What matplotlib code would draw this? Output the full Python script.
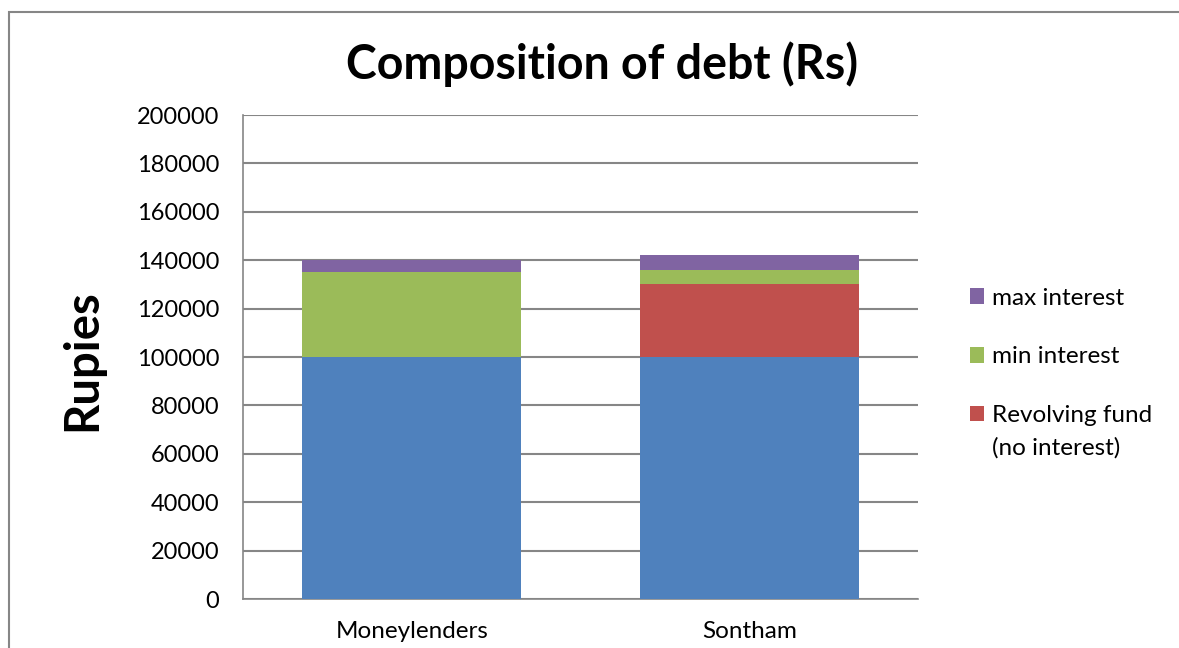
import numpy as np
import matplotlib.pyplot as plt
from matplotlib.patches import Rectangle

categories = ['Moneylenders', 'Sontham']
principal = [100000, 100000]
revolving = [0, 30000]
min_interest = [35000, 6000]
max_interest = [5000, 6000]

yticks = [0, 20000, 40000, 60000, 80000, 100000, 120000, 140000, 160000, 180000, 200000]

plt.rcParams['font.family'] = ['Lato', 'DejaVu Sans']

fig = plt.figure(figsize=(11.79, 6.48), dpi=100)
ax = fig.add_axes([243/1179, 1 - 599/648, 675/1179, 484/648])

x = np.arange(len(categories))
w = 0.65
b1 = np.array(principal)
b2 = b1 + np.array(revolving)
b3 = b2 + np.array(min_interest)

ax.bar(x, principal, w, color='#4F81BD', zorder=3)
ax.bar(x, revolving, w, bottom=b1, color='#C0504D', zorder=3, label='Revolving fund')
ax.bar(x, min_interest, w, bottom=b2, color='#9BBB59', zorder=3, label='min interest')
ax.bar(x, max_interest, w, bottom=b3, color='#8064A2', zorder=3, label='max interest')

ax.set_xlim(-0.5, 1.5)
ax.set_ylim(0, 200000)
ax.set_yticks(yticks)
ax.set_yticklabels([str(v) for v in yticks], fontsize=17)
ax.set_xticks(x)
ax.set_xticklabels(categories, fontsize=17.5)
ax.tick_params(axis='y', length=0, pad=17)
ax.tick_params(axis='x', length=0, pad=16)
ax.grid(axis='y', color='#868686', linewidth=1.5, zorder=0)
for s in ['top', 'right']:
    ax.spines[s].set_visible(False)
for s in ['left', 'bottom']:
    ax.spines[s].set_color('#868686')
    ax.spines[s].set_linewidth(1.2)

fig.text(82/1179, 1 - 360/648, 'Rupies', fontsize=34, fontweight='bold',
         rotation=90, ha='center', va='center')
fig.text(602/1179, 1 - 64/648, 'Composition of debt (Rs)', fontsize=33.5,
         fontweight='bold', ha='center', va='center')

h, l = ax.get_legend_handles_labels()
leg = fig.legend(h[::-1], l[::-1], loc='upper left', bbox_to_anchor=(960/1179, 1 - 278/648),
                 frameon=False, fontsize=17.5, handlelength=0.6, handleheight=0.6,
                 handletextpad=0.3, labelspacing=1.55, borderaxespad=0)

# second line of the revolving fund entry, under its first line
fig.canvas.draw()
bb = leg.get_texts()[-1].get_window_extent()
fig.text(bb.x0 / fig.bbox.width, (bb.y0 - 33) / fig.bbox.height, '(no interest)',
         fontsize=17.5, ha='left', va='bottom')

# outer chart frame
fig.patches.append(Rectangle((9/1179, -0.1), 1.2, 1 - 12.5/648 + 0.1,
                             transform=fig.transFigure, fill=False,
                             edgecolor='#868686', linewidth=1.5))

fig.savefig('out.png', dpi=100, facecolor='white')
